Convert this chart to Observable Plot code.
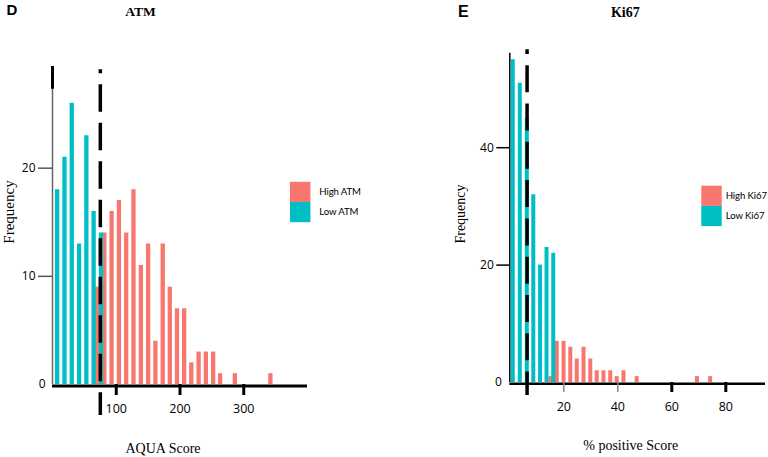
<!DOCTYPE html>
<html><head><meta charset="utf-8">
<script src="https://cdn.jsdelivr.net/npm/d3@7"></script>
<script src="https://cdn.jsdelivr.net/npm/@observablehq/plot@0.6"></script>
<style>
html,body{margin:0;padding:0;background:#fff;}
#wrap{position:relative;width:768px;height:457px;overflow:hidden;}
#panels{display:flex;}
#overlay{position:absolute;left:0;top:0;pointer-events:none;}
</style></head><body>
<div id="wrap"><div id="panels"></div><svg id="overlay" width="768" height="457"></svg></div>
<script>
// ---------- data ----------
// Panel D: ATM (AQUA score)
const atmLowX      = [7.3, 18.8, 30.2, 41.7, 53.1, 64.5, 76.1];
const atmLowCount  = [18, 21, 26, 13, 23, 16, 14];
const atmHighX     = [69.9, 81.3, 92.7, 104.2, 115.6, 127.0, 138.6, 150.0, 161.4, 172.9,
                      184.0, 195.3, 206.5, 217.7, 229.2, 240.6, 252.0, 263.0, 286.0, 341.8];
const atmHighCount = [9, 14, 16, 17, 14, 18, 11, 13, 4, 13, 9, 7, 7, 2, 3, 3, 3, 1, 1, 1];
const atmCutoff    = 75;
const atmXTicks    = [100, 200, 300];
const atmYTicks    = [10, 20];

// Panel E: Ki67 (% positive)
const kiLowX       = [1.1, 3.7, 6.3, 8.7, 11.2, 13.6, 16.1];
const kiLowCount   = [55, 51, 45, 32, 20, 23, 22];
const kiHighX      = [15.0, 17.4, 19.9, 22.4, 24.8, 27.3, 29.8, 32.2, 34.7, 37.2, 39.6, 42.1, 47.0, 69.3, 74.2];
const kiHighCount  = [1, 7, 7, 6, 4, 6, 4, 2, 2, 2, 1, 2, 1, 1, 1];
const kiCutoff     = 6.4;
const kiXTicksLight = [20, 40];
const kiXTicksBold  = [60, 80];
const kiYTicks     = [20, 40];

const groups = ["High", "Low"];
const colors = ["#F8766D", "#00BFC4"];

// ---------- build ----------
const toRows = (xs, cs) => xs.map((x, i) => ({x, count: cs[i]}));
const RED = colors[0], TEAL = colors[1];
const baseStyle = {fontFamily: "'Open Sans', sans-serif", fontSize: "12px", background: "white", color: "black", overflow: "visible"};

// Panel D
const dYMax = 29.4;
const plotD = Plot.plot({
  width: 384, height: 457,
  marginLeft: 52, marginRight: 77, marginTop: 66, marginBottom: 73,
  x: {domain: [0, 400]},
  y: {domain: [0, dYMax]},
  style: baseStyle,
  marks: [
    Plot.ruleX([0], {y1: 0, y2: dYMax, stroke: "#666", strokeWidth: 1.5}),
    Plot.ruleX([0], {y1: 27.3, y2: dYMax, stroke: "#000", strokeWidth: 3}),
    Plot.ruleX(toRows(atmHighX, atmHighCount), {x: "x", y1: 0, y2: "count", stroke: RED, strokeWidth: 4.3}),
    Plot.ruleX(toRows(atmLowX, atmLowCount), {x: "x", y1: 0, y2: "count", stroke: TEAL, strokeWidth: 4.3}),
    Plot.ruleY([0], {stroke: "#000", strokeWidth: 3, dy: 1.5}),
    Plot.axisY(atmYTicks, {tickSize: 14, tickPadding: 3, stroke: "#555", strokeWidth: 1.5, fontSize: 12, label: null}),
    Plot.axisY([0], {tickSize: 0, tickPadding: 7, fontSize: 12, label: null}),
    Plot.axisX(atmXTicks, {tickSize: 11, tickPadding: 9, strokeWidth: 3, fontSize: 12.5, label: null}),
    Plot.ruleX([atmCutoff], {y1: 29.1, y2: -2.87, stroke: "#000", strokeWidth: 3.5,
      strokeDasharray: "27.5,11", strokeDashoffset: 23.5})
  ]
});

// Panel E
const eYMax = 56.1;
const plotE = Plot.plot({
  width: 384, height: 457,
  marginLeft: 125.3, marginRight: 3, marginTop: 52.7, marginBottom: 75,
  x: {domain: [0, 94.7]},
  y: {domain: [0, eYMax]},
  style: baseStyle,
  marks: [
    Plot.ruleX([0], {y1: 0, y2: eYMax, stroke: "#000", strokeWidth: 1.5}),
    Plot.ruleX(toRows(kiHighX, kiHighCount), {x: "x", y1: 0, y2: "count", stroke: RED, strokeWidth: 4}),
    Plot.ruleX(toRows(kiLowX, kiLowCount), {x: "x", y1: 0, y2: "count", stroke: TEAL, strokeWidth: 4}),
    Plot.ruleY([0], {stroke: "#000", strokeWidth: 2.5, dy: 1.3}),
    Plot.axisY(kiYTicks, {tickSize: 13, tickPadding: 3, stroke: "#000", strokeWidth: 1.5, fontSize: 12, label: null}),
    Plot.axisY([0], {tickSize: 0, tickPadding: 8, fontSize: 12, label: null}),
    Plot.axisX(kiXTicksLight, {tickSize: 10, tickPadding: 10, stroke: "#888", strokeWidth: 1.5, fontSize: 12.5, label: null}),
    Plot.axisX(kiXTicksBold, {tickSize: 10, tickPadding: 10, stroke: "#000", strokeWidth: 3, fontSize: 12.5, label: null}),
    Plot.ruleX([kiCutoff], {y1: 56.7, y2: -2.2, stroke: "#000", strokeWidth: 3.5,
      strokeDasharray: "27,11.3", strokeDashoffset: 22.3})
  ]
});

document.getElementById("panels").append(plotD, plotE);

// ---------- titles, axis labels, legends ----------
const ov = d3.select("#overlay");
const serif = "'Liberation Serif', 'Times New Roman', serif";
const sans = "'Liberation Sans', Arial, sans-serif";
function txt(s, x, y, o = {}) {
  const t = ov.append("text").attr("x", x).attr("y", y).text(s)
    .attr("font-family", o.family || serif).attr("font-size", o.size || 14)
    .attr("font-weight", o.weight || "normal").attr("text-anchor", o.anchor || "start")
    .attr("fill", "#000");
  if (o.spacing) t.attr("letter-spacing", o.spacing);
  if (o.rotate) t.attr("transform", `rotate(-90 ${x} ${y})`);
  return t;
}
txt("D", 6.5, 14.5, {family: sans, size: 15, weight: "bold"});
txt("ATM", 140.5, 16, {size: 13.5, weight: "bold", anchor: "middle"});
txt("E", 458, 17, {family: sans, size: 16, weight: "bold"});
txt("Ki67", 625.3, 16.7, {size: 14, weight: "bold", anchor: "middle"});
txt("AQUA Score", 163, 453, {size: 14, anchor: "middle"});
txt("% positive Score", 630.7, 450, {size: 14, anchor: "middle"});
txt("Frequency", 13.6, 212, {size: 15, anchor: "middle", rotate: true});
txt("Frequency", 465, 214, {size: 14, anchor: "middle", rotate: true});

function legend(x, y, labels, textGap) {
  labels.forEach((lab, i) => {
    ov.append("rect").attr("x", x).attr("y", y + i * 20.2).attr("width", 20.4).attr("height", 20.2).attr("fill", colors[i]);
    txt(lab, x + textGap, y + i * 20.2 + 13.3, {family: "Lato, sans-serif", size: 9.6, spacing: -0.1});
  });
}
legend(290, 181.8, groups.map(g => g + " ATM"), 29.3);
legend(701.3, 185.7, groups.map(g => g + " Ki67"), 24.4);
</script>
</body></html>
